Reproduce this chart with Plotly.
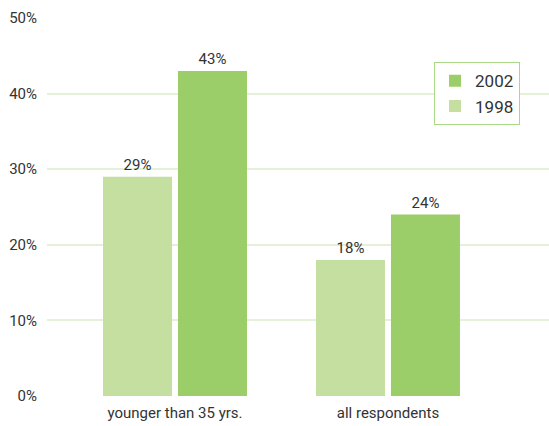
import plotly.graph_objects as go

categories = ["younger than 35 yrs.", "all respondents"]
years = ["1998", "2002"]
values_1998 = [29, 18]
values_2002 = [43, 24]
y_ticks = [0, 10, 20, 30, 40, 50]
y_tick_labels = ["0%", "10%", "20%", "30%", "40%", "50%"]

colors = {"1998": "#c4dfa0", "2002": "#9bce68"}
font_family = "Roboto, Arial, sans-serif"
text_color = "#333333"

positions = list(range(len(categories)))

fig = go.Figure()
for name, vals, offset in [("1998", values_1998, -0.176), ("2002", values_2002, 0.176)]:
    fig.add_trace(go.Bar(
        x=[p + offset for p in positions],
        y=vals,
        name=name,
        width=0.324,
        marker=dict(color=colors[name], line=dict(width=0)),
        text=[f"{v}%" for v in vals],
        textposition="outside",
        textfont=dict(family=font_family, size=15, color=text_color),
        cliponaxis=False,
    ))

fig.update_layout(
    width=549, height=426,
    margin=dict(l=47, r=0, t=18, b=30),
    plot_bgcolor="white", paper_bgcolor="white",
    barmode="overlay",
    font=dict(family=font_family, size=15, color=text_color),
    showlegend=True,
    legend=dict(
        x=0.771, y=0.883, xanchor="left", yanchor="top",
        traceorder="reversed",
        bgcolor="white", bordercolor="#a9d886", borderwidth=1,
        font=dict(family=font_family, size=17, color=text_color),
        itemwidth=30, tracegroupgap=0,
    ),
    xaxis=dict(
        range=[-0.601, 1.756],
        tickvals=positions, ticktext=categories,
        showgrid=False, zeroline=False, showline=False, ticks="",
        ticklabelstandoff=6,
        tickfont=dict(family=font_family, size=15, color=text_color),
    ),
    yaxis=dict(
        range=[0, 50],
        tickvals=y_ticks, ticktext=y_tick_labels,
        showgrid=True, gridcolor="#e4f0d8", gridwidth=1.5,
        zeroline=False, showline=False, ticks="",
        ticklabelstandoff=9,
        tickfont=dict(family=font_family, size=15, color=text_color),
    ),
)

fig.write_html("out.html")
